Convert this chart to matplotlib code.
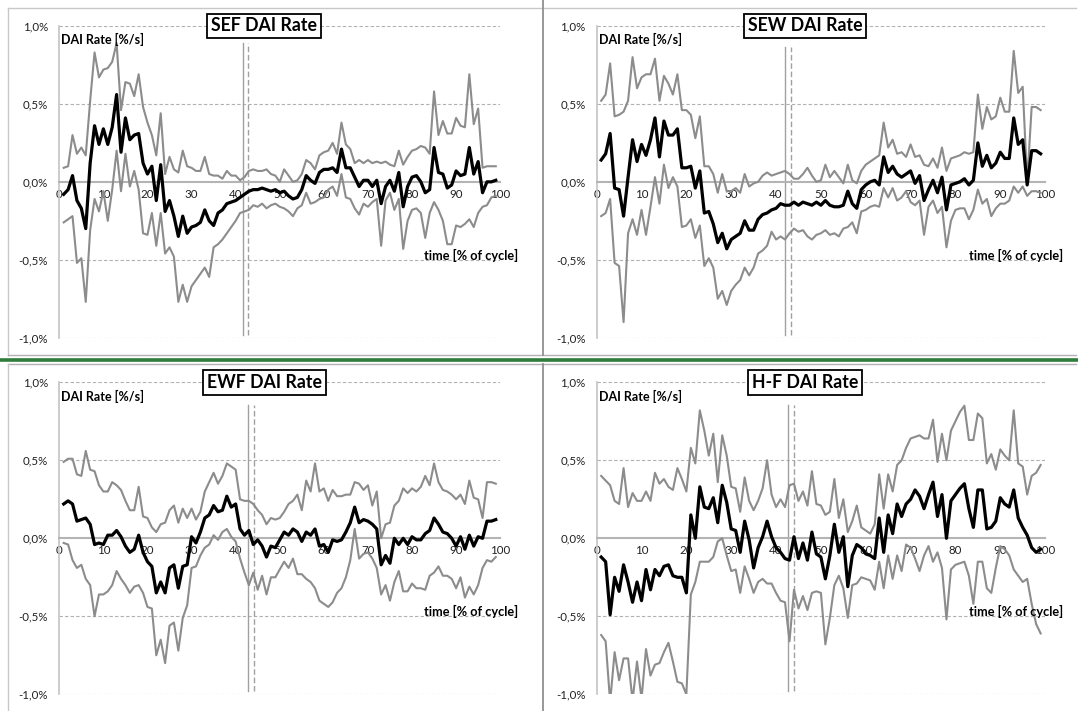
import matplotlib
matplotlib.use("Agg")
import matplotlib.pyplot as plt
from matplotlib.lines import Line2D

plt.rcParams['font.family'] = ['Lato', 'DejaVu Sans']

# time axis, % of cycle
t = list(range(1, 100))

sef_mean = [-0.08, -0.05, 0.04, -0.12, -0.17, -0.30, 0.12, 0.36, 0.24, 0.34,
            0.24, 0.35, 0.56, 0.19, 0.41, 0.27, 0.30, 0.31, 0.12, 0.05,
            0.10, -0.12, 0.11, -0.19, -0.12, -0.22, -0.35, -0.22, -0.33, -0.29,
            -0.28, -0.26, -0.18, -0.25, -0.28, -0.20, -0.18, -0.14, -0.13, -0.12,
            -0.10, -0.08, -0.06, -0.05, -0.05, -0.04, -0.05, -0.06, -0.05, -0.07,
            -0.06, -0.09, -0.11, -0.10, -0.05, 0.04, 0.01, -0.01, 0.06, 0.08,
            0.08, 0.09, 0.06, 0.21, 0.09, 0.09, 0.03, -0.03, 0.01, 0.01,
            -0.03, 0.01, -0.14, -0.03, 0.01, -0.06, 0.06, -0.16, -0.03, 0.03,
            0.04, 0.00, -0.07, -0.05, 0.22, 0.06, 0.05, -0.04, -0.02, 0.07,
            0.04, 0.05, 0.22, 0.05, 0.13, -0.07, 0.00, 0.00, 0.01]
sef_upper = [0.09, 0.10, 0.30, 0.18, 0.22, 0.17, 0.52, 0.83, 0.67, 0.72,
             0.73, 0.77, 0.89, 0.46, 0.64, 0.63, 0.55, 0.69, 0.48, 0.38,
             0.30, 0.17, 0.44, 0.05, 0.16, 0.08, 0.06, 0.20, 0.10, 0.09,
             0.07, 0.07, 0.16, 0.05, 0.04, 0.04, 0.02, 0.07, 0.04, 0.04,
             0.01, 0.03, 0.07, 0.08, 0.07, 0.07, 0.08, 0.05, 0.04, 0.00,
             0.08, 0.04, 0.00, 0.01, 0.05, 0.14, 0.12, 0.08, 0.17, 0.19,
             0.20, 0.25, 0.18, 0.38, 0.24, 0.21, 0.12, 0.14, 0.12, 0.14,
             0.12, 0.13, 0.12, 0.13, 0.11, 0.10, 0.20, 0.11, 0.16, 0.20,
             0.21, 0.23, 0.22, 0.18, 0.58, 0.30, 0.39, 0.31, 0.31, 0.41,
             0.36, 0.35, 0.69, 0.37, 0.47, 0.09, 0.10, 0.10, 0.10]
sef_lower = [-0.26, -0.24, -0.22, -0.52, -0.49, -0.77, -0.31, -0.11, -0.19, -0.06,
             -0.25, -0.05, 0.20, -0.06, 0.18, -0.03, 0.07, -0.05, -0.33, -0.34,
             -0.20, -0.41, -0.20, -0.46, -0.42, -0.48, -0.77, -0.66, -0.77, -0.67,
             -0.63, -0.59, -0.55, -0.61, -0.42, -0.40, -0.37, -0.33, -0.29, -0.25,
             -0.20, -0.19, -0.18, -0.15, -0.16, -0.14, -0.17, -0.15, -0.14, -0.16,
             -0.17, -0.19, -0.22, -0.17, -0.15, -0.07, -0.14, -0.13, -0.11, -0.10,
             -0.05, -0.03, -0.09, 0.05, -0.10, -0.11, -0.17, -0.21, -0.14, -0.16,
             -0.13, -0.11, -0.41, -0.12, -0.07, -0.18, -0.11, -0.43, -0.25, -0.18,
             -0.17, -0.20, -0.36, -0.20, -0.13, -0.18, -0.25, -0.40, -0.40, -0.28,
             -0.29, -0.27, -0.24, -0.29, -0.20, -0.16, -0.15, -0.10, -0.09]

sew_mean = [0.14, 0.18, 0.31, -0.04, -0.05, -0.22, 0.03, 0.27, 0.13, 0.24,
            0.17, 0.27, 0.41, 0.16, 0.39, 0.30, 0.30, 0.34, 0.09, 0.09,
            0.10, -0.04, 0.07, -0.20, -0.19, -0.27, -0.39, -0.33, -0.43, -0.37,
            -0.35, -0.33, -0.25, -0.31, -0.31, -0.24, -0.21, -0.20, -0.18, -0.17,
            -0.14, -0.15, -0.15, -0.13, -0.15, -0.13, -0.14, -0.15, -0.13, -0.15,
            -0.12, -0.15, -0.16, -0.16, -0.15, -0.06, -0.14, -0.17, -0.05, -0.02,
            0.00, 0.01, -0.02, 0.16, 0.06, 0.10, 0.05, 0.03, 0.05, 0.07,
            -0.01, 0.04, -0.12, -0.05, 0.01, -0.07, 0.03, -0.18, -0.02, -0.01,
            0.00, 0.02, -0.02, 0.01, 0.25, 0.10, 0.17, 0.09, 0.12, 0.19,
            0.15, 0.15, 0.41, 0.24, 0.27, -0.02, 0.20, 0.20, 0.18]
sew_upper = [0.52, 0.56, 0.76, 0.42, 0.43, 0.45, 0.52, 0.80, 0.60, 0.67,
             0.69, 0.69, 0.79, 0.52, 0.68, 0.63, 0.56, 0.69, 0.46, 0.46,
             0.43, 0.28, 0.42, 0.10, 0.10, 0.05, -0.07, 0.05, -0.06, -0.06,
             -0.04, -0.07, 0.05, -0.03, -0.01, 0.00, 0.04, 0.06, 0.04, 0.05,
             0.06, 0.07, 0.05, 0.02, 0.02, 0.05, 0.09, 0.04, 0.00, 0.01,
             0.11, 0.03, 0.07, 0.03, -0.01, 0.11, 0.01, -0.01, 0.07, 0.11,
             0.13, 0.15, 0.17, 0.38, 0.22, 0.27, 0.18, 0.19, 0.16, 0.24,
             0.16, 0.17, 0.11, 0.10, 0.15, 0.09, 0.22, 0.07, 0.15, 0.16,
             0.17, 0.19, 0.18, 0.19, 0.56, 0.34, 0.48, 0.40, 0.42, 0.54,
             0.45, 0.45, 0.84, 0.57, 0.61, 0.00, 0.48, 0.48, 0.46]
sew_lower = [-0.22, -0.20, -0.11, -0.52, -0.54, -0.90, -0.33, -0.24, -0.34, -0.18,
             -0.34, -0.16, 0.03, -0.14, 0.11, -0.04, 0.03, -0.03, -0.29, -0.28,
             -0.24, -0.36, -0.28, -0.54, -0.49, -0.55, -0.75, -0.70, -0.79, -0.70,
             -0.66, -0.63, -0.55, -0.60, -0.55, -0.46, -0.44, -0.41, -0.32, -0.37,
             -0.35, -0.37, -0.33, -0.30, -0.32, -0.31, -0.35, -0.37, -0.34, -0.33,
             -0.31, -0.34, -0.33, -0.35, -0.30, -0.29, -0.26, -0.33, -0.19, -0.18,
             -0.16, -0.15, -0.16, -0.04, -0.10, -0.04, -0.12, -0.10, -0.06, -0.13,
             -0.15, -0.12, -0.34, -0.16, -0.12, -0.20, -0.16, -0.42, -0.25, -0.18,
             -0.17, -0.17, -0.24, -0.18, -0.05, -0.14, -0.11, -0.22, -0.17, -0.14,
             -0.14, -0.12, -0.03, -0.07, -0.03, -0.09, -0.06, -0.06, -0.07]

ewf_mean = [0.22, 0.24, 0.22, 0.11, 0.12, 0.13, 0.09, -0.04, -0.03, -0.04,
            0.02, 0.02, 0.05, 0.01, -0.05, -0.09, -0.07, 0.02, -0.09, -0.15,
            -0.18, -0.35, -0.28, -0.35, -0.19, -0.17, -0.32, -0.18, -0.17, 0.01,
            -0.03, 0.04, 0.13, 0.15, 0.21, 0.17, 0.18, 0.27, 0.20, 0.22,
            0.06, 0.02, 0.05, -0.04, -0.01, -0.05, -0.12, -0.05, -0.06, -0.01,
            0.04, 0.02, 0.06, 0.04, -0.02, 0.04, 0.02, 0.06, -0.05, -0.04,
            -0.09, -0.01, -0.02, -0.01, 0.04, 0.10, 0.20, 0.10, 0.12, 0.11,
            0.09, 0.06, -0.17, -0.11, -0.16, 0.00, -0.04, 0.00, -0.04, 0.01,
            -0.01, -0.01, 0.03, 0.05, 0.13, 0.09, 0.04, 0.03, 0.00, -0.05,
            0.01, -0.07, 0.02, -0.05, 0.01, 0.00, 0.11, 0.11, 0.12]
ewf_upper = [0.49, 0.51, 0.51, 0.41, 0.40, 0.56, 0.44, 0.43, 0.34, 0.30,
             0.30, 0.36, 0.34, 0.31, 0.24, 0.18, 0.18, 0.33, 0.14, 0.13,
             0.07, 0.04, 0.09, 0.10, 0.18, 0.21, 0.10, 0.19, 0.13, 0.19,
             0.12, 0.17, 0.30, 0.36, 0.42, 0.35, 0.40, 0.48, 0.46, 0.44,
             0.25, 0.24, 0.24, 0.22, 0.18, 0.15, 0.09, 0.13, 0.12, 0.13,
             0.17, 0.22, 0.24, 0.28, 0.18, 0.37, 0.30, 0.48, 0.30, 0.32,
             0.24, 0.31, 0.27, 0.27, 0.28, 0.28, 0.36, 0.35, 0.31, 0.34,
             0.21, 0.30, 0.00, 0.09, 0.10, 0.21, 0.24, 0.32, 0.29, 0.32,
             0.30, 0.33, 0.40, 0.34, 0.48, 0.36, 0.31, 0.30, 0.28, 0.25,
             0.28, 0.22, 0.37, 0.26, 0.25, 0.13, 0.36, 0.36, 0.35]
ewf_lower = [-0.03, -0.04, -0.14, -0.19, -0.17, -0.26, -0.30, -0.50, -0.36, -0.36,
             -0.34, -0.30, -0.21, -0.26, -0.30, -0.35, -0.31, -0.30, -0.35, -0.44,
             -0.45, -0.75, -0.65, -0.80, -0.56, -0.54, -0.72, -0.51, -0.43, -0.19,
             -0.18, -0.11, -0.06, -0.04, 0.02, -0.01, 0.04, 0.06, 0.01, -0.02,
             -0.13, -0.22, -0.30, -0.22, -0.33, -0.24, -0.36, -0.25, -0.25, -0.20,
             -0.15, -0.19, -0.13, -0.23, -0.23, -0.26, -0.28, -0.32, -0.40, -0.42,
             -0.44, -0.41, -0.35, -0.32, -0.25, -0.14, 0.06, -0.13, -0.10, -0.09,
             -0.13, -0.19, -0.36, -0.30, -0.40, -0.28, -0.21, -0.34, -0.34, -0.29,
             -0.32, -0.32, -0.33, -0.24, -0.22, -0.18, -0.24, -0.24, -0.26, -0.32,
             -0.25, -0.38, -0.31, -0.36, -0.30, -0.19, -0.14, -0.15, -0.12]

hf_mean = [-0.12, -0.15, -0.49, -0.25, -0.34, -0.17, -0.28, -0.41, -0.28, -0.40,
           -0.20, -0.33, -0.20, -0.24, -0.18, -0.17, -0.24, -0.25, -0.25, -0.35,
           0.15, 0.00, 0.33, 0.20, 0.19, 0.26, 0.10, 0.34, 0.23, 0.06,
           0.05, -0.09, 0.11, -0.01, -0.19, -0.06, 0.01, 0.11, 0.01, -0.06,
           -0.09, -0.13, -0.14, 0.01, -0.13, -0.03, -0.14, 0.04, -0.10, -0.12,
           -0.26, -0.11, 0.09, -0.09, 0.01, -0.31, -0.11, -0.04, -0.06, -0.10,
           -0.11, -0.13, 0.13, -0.09, 0.15, 0.03, 0.22, 0.14, 0.22, 0.25,
           0.31, 0.27, 0.19, 0.28, 0.36, 0.14, 0.28, 0.00, 0.24, 0.28,
           0.32, 0.35, 0.19, 0.07, 0.31, 0.31, 0.06, 0.07, 0.11, 0.26,
           0.22, 0.20, 0.31, 0.13, 0.07, 0.02, -0.06, -0.09, -0.07]
hf_upper = [0.40, 0.37, 0.34, 0.24, 0.22, 0.45, 0.20, 0.29, 0.24, 0.24,
            0.30, 0.24, 0.42, 0.35, 0.38, 0.33, 0.31, 0.45, 0.38, 0.30,
            0.58, 0.48, 0.82, 0.69, 0.53, 0.67, 0.36, 0.66, 0.53, 0.33,
            0.32, 0.17, 0.39, 0.24, 0.18, 0.24, 0.32, 0.50, 0.28, 0.20,
            0.25, 0.20, 0.34, 0.35, 0.24, 0.30, 0.21, 0.43, 0.22, 0.21,
            0.15, 0.17, 0.38, 0.13, 0.25, 0.04, 0.11, 0.21, 0.07, 0.05,
            0.03, 0.09, 0.41, 0.19, 0.41, 0.30, 0.47, 0.50, 0.58, 0.64,
            0.65, 0.66, 0.64, 0.64, 0.76, 0.49, 0.67, 0.50, 0.69, 0.75,
            0.81, 0.85, 0.63, 0.63, 0.80, 0.77, 0.48, 0.54, 0.44, 0.57,
            0.53, 0.50, 0.82, 0.48, 0.46, 0.28, 0.40, 0.42, 0.47]
hf_lower = [-0.62, -0.66, -1.05, -0.73, -0.91, -0.77, -0.77, -1.04, -0.79, -1.03,
            -0.71, -0.88, -0.81, -0.80, -0.73, -0.67, -0.79, -0.92, -0.93, -1.00,
            -0.36, -0.28, -0.15, -0.15, -0.15, -0.12, -0.02, 0.00, -0.11, -0.21,
            -0.20, -0.35, -0.18, -0.26, -0.35, -0.28, -0.26, -0.29, -0.29, -0.35,
            -0.40, -0.41, -0.66, -0.33, -0.45, -0.37, -0.46, -0.35, -0.34, -0.35,
            -0.68, -0.51, -0.30, -0.24, -0.32, -0.51, -0.30, -0.29, -0.25, -0.26,
            -0.27, -0.33, -0.15, -0.32, -0.11, -0.26, -0.11, -0.21, -0.04, -0.06,
            -0.13, -0.21, -0.11, -0.05, -0.15, -0.09, -0.19, -0.52, -0.20, -0.17,
            -0.16, -0.15, -0.24, -0.42, -0.15, -0.15, -0.32, -0.35, -0.19, -0.05,
            -0.07, -0.11, -0.20, -0.24, -0.28, -0.26, -0.42, -0.55, -0.61]

titles = ["SEF DAI Rate", "SEW DAI Rate", "EWF DAI Rate", "H-F DAI Rate"]
vline_solid = [41.6, 41.9, 42.7, 42.7]
vline_dash = [42.9, 43.3, 44.1, 44.0]
y_ticks = [-1.0, -0.5, 0.0, 0.5, 1.0]
y_ticklabels = ["-1,0%", "-0,5%", "0,0%", "0,5%", "1,0%"]
x_ticks = list(range(0, 101, 10))

panels = [
    (sef_mean, sef_upper, sef_lower),
    (sew_mean, sew_upper, sew_lower),
    (ewf_mean, ewf_upper, ewf_lower),
    (hf_mean, hf_upper, hf_lower),
]

# axes rectangles [left, bottom, width, height] in figure fractions
rects = [
    [0.055, 0.525, 0.409, 0.4385],
    [0.5535, 0.525, 0.416, 0.4385],
    [0.055, 0.0235, 0.409, 0.4388],
    [0.5535, 0.0235, 0.416, 0.4388],
]
vtop = [0.945, 0.932, 0.927, 0.927]

fig = plt.figure(figsize=(10.78, 7.11), dpi=100)

# panel frames and separators
W, H = 1078.0, 711.0
def fline(x0, y0, x1, y1, color, lw):
    fig.add_artist(Line2D([x0 / W, x1 / W], [1 - y0 / H, 1 - y1 / H],
                          color=color, lw=lw, transform=fig.transFigure))

fline(8, 8, 1076, 8, '#c8c8c8', 1.0)
fline(8, 8, 8, 355, '#c8c8c8', 1.0)
fline(8, 355, 1076, 355, '#b0b0b0', 1.0)
fline(8, 364, 1076, 364, '#b0b0b0', 1.0)
fline(8, 364, 8, 711, '#c8c8c8', 1.0)
fline(543, 0, 543, 355, '#909090', 1.3)
fline(543, 364, 543, 711, '#909090', 1.3)
fline(0, 359.5, 1078, 359.5, '#2e7d3c', 2.6)

for i, (mean, upper, lower) in enumerate(panels):
    ax = fig.add_axes(rects[i])
    ax.set_xlim(0, 100)
    ax.set_ylim(-1.0, 1.0)
    for yv in [-1.0, -0.5, 0.5, 1.0]:
        ax.axhline(yv, color='#b0b0b0', lw=0.8, ls=(0, (3, 2)), zorder=1)
    ax.plot(t, upper, color='#8c8c8c', lw=1.5, zorder=3)
    ax.plot(t, lower, color='#8c8c8c', lw=1.5, zorder=3)
    ax.plot(t, mean, color='black', lw=2.3, zorder=4)
    ax.axvline(vline_solid[i], ymin=0.01, ymax=vtop[i], color='#a0a0a0', lw=1.0, zorder=2)
    ax.axvline(vline_dash[i], ymin=0.01, ymax=vtop[i], color='#a0a0a0', lw=1.0,
               ls=(0, (4, 2)), zorder=2)

    for s in ['top', 'right']:
        ax.spines[s].set_visible(False)
    ax.spines['bottom'].set_position(('data', 0))
    ax.spines['bottom'].set_color('#b4b4b4')
    ax.spines['bottom'].set_linewidth(1.5)
    ax.spines['left'].set_color('#c4c4c4')
    ax.spines['left'].set_linewidth(1.2)
    ax.set_yticks(y_ticks)
    ax.set_yticklabels(y_ticklabels)
    ax.set_xticks(x_ticks)
    ax.tick_params(axis='both', length=0, labelsize=8.3, colors='#202020')
    ax.tick_params(axis='y', pad=8)
    ax.tick_params(axis='x', pad=5)
    ax.patch.set_alpha(0)

    ax.text(46.5, 1.0, titles[i], ha='center', va='center', fontsize=12.8,
            fontweight='bold', zorder=6, clip_on=False,
            bbox=dict(boxstyle='square,pad=0.22', fc='white', ec='black', lw=1.3))
    ax.text(0.5, 0.91, "DAI Rate [%/s]", ha='left', va='center', fontsize=9,
            fontweight='bold', zorder=6)
    ax.text(104.0, -0.47, "time [% of cycle]", ha='right', va='center', fontsize=9.2,
            fontweight='bold', zorder=6, clip_on=False)

fig.savefig("out.png", dpi=100)
